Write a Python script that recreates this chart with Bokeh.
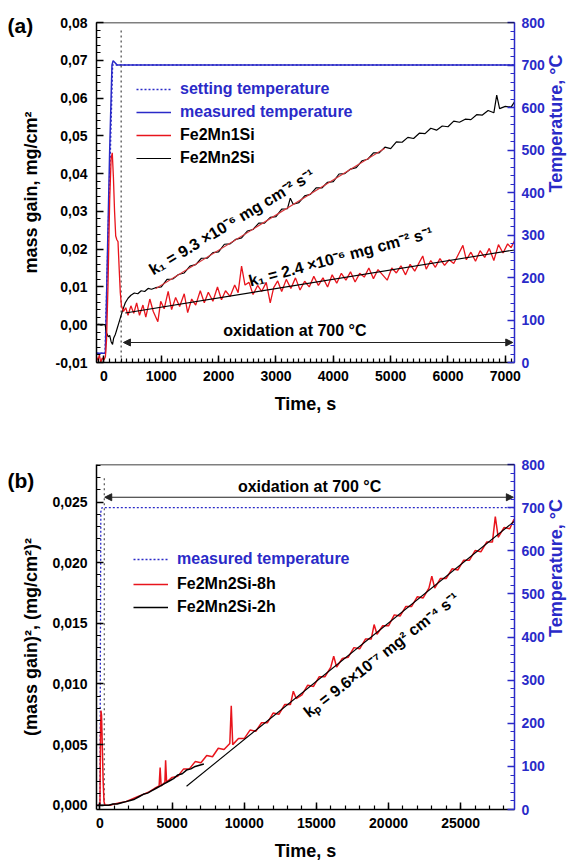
import math
from bokeh.plotting import figure
from bokeh.models import (Range1d, LinearAxis, SingleIntervalTicker, Span,
                          CustomJSTickFormatter, Legend, LegendItem, Label, Arrow, NormalHead)
from bokeh.layouts import column
from bokeh.embed import file_html
from bokeh.resources import INLINE

# ---------------- data: panel (a) ----------------
temp_a_t = [-130, 25, 60, 100, 140, 160, 190, 230, 7160]
temp_a_meas = [22, 22, 250, 500, 700, 710, 706, 700, 700]
temp_a_set_t = [-130, 20, 150, 7160]
temp_a_set = [22, 22, 700, 700]
ox_start_t = [300, 300]
ox_start_a = [-0.01, 0.078]

fe2mn1si_t = [-130, -105, -80, -55, -30, 0, 25, 45, 70, 100, 125, 145, 165, 185, 205, 225, 245, 265, 285, 305,
              340, 380, 420, 470, 520, 570, 620, 680, 730, 800, 860, 940, 990, 1050, 1120, 1180, 1250, 1320,
              1400, 1460, 1530, 1600, 1680, 1750, 1820, 1900, 1980, 2050, 2120, 2200, 2280, 2340, 2400, 2460,
              2530, 2600, 2680, 2750, 2830, 2900, 2960, 3030, 3100, 3180, 3260, 3340, 3420, 3500, 3580, 3660,
              3740, 3820, 3900, 3980, 4060, 4140, 4220, 4300, 4380, 4460, 4540, 4620, 4700, 4780, 4860, 4940,
              5020, 5100, 5180, 5260, 5340, 5420, 5500, 5560, 5620, 5700, 5780, 5860, 5940, 6020, 6100, 6180,
              6260, 6320, 6400, 6480, 6560, 6640, 6720, 6800, 6880, 6960, 7040, 7100, 7160]
fe2mn1si_v = [-0.0085, -0.0095, -0.0080, -0.0100, -0.0088, -0.0093, -0.0085, -0.0040, 0.0100, 0.0330, 0.0440,
              0.0455, 0.0390, 0.0300, 0.0235, 0.0225, 0.0220, 0.0150, 0.0085, 0.0050,
              0.0035, 0.0045, 0.0025, 0.0050, 0.0030, 0.0058, 0.0025, 0.0052, 0.0020, 0.0068, 0.0035, 0.0008,
              0.0062, 0.0042, 0.0088, 0.0040, 0.0072, 0.0048, 0.0082, 0.0032, 0.0068, 0.0052, 0.0090, 0.0058,
              0.0086, 0.0062, 0.0100, 0.0066, 0.0090, 0.0075, 0.0105, 0.0085, 0.0155, 0.0105, 0.0112, 0.0080,
              0.0104, 0.0088, 0.0112, 0.0058, 0.0098, 0.0116, 0.0088, 0.0120, 0.0096, 0.0124, 0.0092, 0.0115,
              0.0100, 0.0128, 0.0104, 0.0124, 0.0100, 0.0132, 0.0110, 0.0136, 0.0118, 0.0140, 0.0113, 0.0136,
              0.0126, 0.0150, 0.0122, 0.0146, 0.0132, 0.0118, 0.0150, 0.0137, 0.0156, 0.0132, 0.0160, 0.0142,
              0.0165, 0.0182, 0.0147, 0.0170, 0.0152, 0.0175, 0.0157, 0.0172, 0.0162, 0.0186, 0.0210, 0.0172,
              0.0192, 0.0168, 0.0196, 0.0178, 0.0202, 0.0170, 0.0212, 0.0190, 0.0214, 0.0204, 0.0222]

fe2mn2si_t = [-130, -90, -50, -10, 20, 45, 75, 100, 125, 150, 170, 200, 230, 260, 290, 330, 372, 420, 470, 530,
              590, 650, 710, 770, 830, 900, 1000, 1100, 1200, 1300, 1400, 1500, 1600, 1700, 1800, 1900, 2000,
              2100, 2200, 2300, 2400, 2500, 2600, 2700, 2800, 2900, 3000, 3100, 3200, 3250, 3300, 3400, 3500,
              3600, 3700, 3800, 3900, 4000, 4100, 4200, 4300, 4400, 4500, 4600, 4700, 4800, 4900, 5000, 5100,
              5200, 5300, 5400, 5500, 5600, 5700, 5800, 5900, 6000, 6100, 6200, 6300, 6400, 6500, 6600, 6700,
              6800, 6850, 6900, 7000, 7100, 7160]
fe2mn2si_v = [0.0000, 0.0001, -0.0001, 0.0000, 0.0000, -0.0022, -0.0032, -0.0028, -0.0045, -0.0052, -0.0035,
              -0.0025, -0.0010, 0.0005, 0.0020, 0.0040, 0.0058, 0.0070, 0.0078, 0.0084, 0.0082, 0.0090, 0.0088,
              0.0096, 0.0094, 0.0098, 0.0100, 0.0120, 0.0121, 0.0133, 0.0137, 0.0155, 0.0159, 0.0176, 0.0176,
              0.0191, 0.0193, 0.0213, 0.0214, 0.0226, 0.0230, 0.0248, 0.0252, 0.0269, 0.0269, 0.0284, 0.0286,
              0.0306, 0.0307, 0.0335, 0.0319, 0.0323, 0.0341, 0.0345, 0.0362, 0.0362, 0.0377, 0.0379, 0.0399,
              0.0400, 0.0412, 0.0416, 0.0434, 0.0438, 0.0455, 0.0455, 0.0470, 0.0466, 0.0484, 0.0483, 0.0496,
              0.0493, 0.0507, 0.0506, 0.0520, 0.0515, 0.0526, 0.0524, 0.0539, 0.0536, 0.0544, 0.0543, 0.0556,
              0.0555, 0.0567, 0.0561, 0.0608, 0.0572, 0.0578, 0.0576, 0.0590]

fit_a_black_t = [900, 4900]      # linear fit on Fe2Mn2Si (k1 = 9.3e-6)
fit_a_black_v = [0.0095, 0.0467]
fit_a_red_t = [372, 7160]        # linear fit on Fe2Mn1Si (k1 = 2.4e-6)
fit_a_red_v = [0.0031, 0.0198]

# ---------------- data: panel (b) ----------------
temp_b_t = [-240, 0, 60, 140, 28730]
temp_b_meas = [10, 10, 690, 700, 700]
ox_start_b = [0.0, 0.0272]

h8_t = [-150, 0, 40, 70, 110, 160, 220, 280, 350, 700, 1000, 1400, 1800, 2200, 2600, 3000, 3400, 3800, 4100,
        4170, 4240, 4500, 4550, 4620, 4800, 5000, 5400, 5800, 6200, 6600, 7000, 7400, 7800, 8200, 8600, 9000,
        9100, 9200, 9600, 10000, 10400, 10800, 11200, 11600, 12000, 12400, 12800, 13200, 13400, 13600, 14000,
        14400, 14800, 15200, 15600, 16000, 16200, 16400, 16800, 17200, 17600, 18000, 18400, 18800, 19000,
        19200, 19600, 20000, 20400, 20800, 21200, 21600, 22000, 22400, 22800, 23000, 23200, 23600, 24000,
        24400, 24800, 25200, 25600, 26000, 26400, 26800, 27200, 27400, 27600, 28000, 28400, 28700]
h8_v = [0.0000, 0.0001, 0.0060, 0.0078, 0.0074, 0.0050, 0.0020, 0.0003, 0.0000, 0.0000, 0.0001, 0.0002, 0.0003,
        0.0005, 0.0007, 0.0009, 0.0011, 0.0014, 0.0016, 0.0031, 0.0016, 0.0019, 0.0037, 0.0019, 0.0021, 0.0023,
        0.0024, 0.0030, 0.0030, 0.0036, 0.0035, 0.0041, 0.0040, 0.0047, 0.0046, 0.0051, 0.0082, 0.0050, 0.0055,
        0.0055, 0.0062, 0.0061, 0.0068, 0.0068, 0.0076, 0.0075, 0.0083, 0.0083, 0.0094, 0.0088, 0.0091, 0.0099,
        0.0098, 0.0106, 0.0106, 0.0114, 0.0123, 0.0114, 0.0121, 0.0122, 0.0130, 0.0129, 0.0137, 0.0137, 0.0149,
        0.0141, 0.0148, 0.0148, 0.0157, 0.0156, 0.0164, 0.0164, 0.0172, 0.0171, 0.0179, 0.0189, 0.0179, 0.0187,
        0.0187, 0.0195, 0.0194, 0.0202, 0.0202, 0.0210, 0.0209, 0.0217, 0.0217, 0.0238, 0.0221, 0.0229, 0.0228,
        0.0236]

h2_t = [0, 300, 600, 900, 1200, 1500, 1800, 2100, 2400, 2700, 3000, 3300, 3600, 3900, 4200, 4500, 4800, 5100,
        5400, 5700, 6000, 6300, 6600, 6900, 7200]
h2_v = [0.0000, 0.0000, 0.0000, 0.0001, 0.0001, 0.0002, 0.0003, 0.0004, 0.0005, 0.0007, 0.0009, 0.0010, 0.0012,
        0.0014, 0.0016, 0.0018, 0.0020, 0.0022, 0.0025, 0.0026, 0.0029, 0.0030, 0.0032, 0.0033, 0.0034]

fit_b_t = [6000, 28700]          # parabolic fit (kp = 9.6e-7)
fit_b_v = [0.00157, 0.0234]

# ---------------- styling ----------------
FONT = "Liberation Sans"
BLUE = "#2a2ac8"
RED = "#e8141c"
FIT_RED = "#d8383c"


def style_axis(ax, color="black", label_size="18px", tick_size="14px"):
    ax.axis_line_color = color
    ax.axis_line_width = 1.5
    ax.major_tick_line_color = color
    ax.minor_tick_line_color = color
    ax.major_tick_line_width = 1.5
    ax.minor_tick_line_width = 1.2
    ax.major_tick_in = 7
    ax.major_tick_out = 0
    ax.minor_tick_in = 4
    ax.minor_tick_out = 0
    ax.major_label_text_font = FONT
    ax.major_label_text_font_style = "bold"
    ax.major_label_text_font_size = tick_size
    ax.major_label_text_color = color
    ax.axis_label_text_font = FONT
    ax.axis_label_text_font_style = "bold"
    ax.axis_label_text_font_size = label_size
    ax.axis_label_text_color = color


def vertical_up(ax):
    if "axis_label_orientation" in ax.properties():
        ax.axis_label_orientation = math.pi / 2
        ax.axis_label_text_align = "center"
        ax.axis_label_text_baseline = "top"


def style_legend(leg, color):
    leg.border_line_color = None
    leg.background_fill_alpha = 0
    leg.padding = 0
    leg.margin = 0
    leg.glyph_width = 35
    leg.glyph_height = 20
    leg.label_height = 20
    leg.label_standoff = 9
    leg.label_text_font = FONT
    leg.label_text_font_style = "bold"
    leg.label_text_font_size = "16px"
    leg.label_text_color = color


def txt(p, x, y, text, angle=0.0, size="16px"):
    p.add_layout(Label(x=x, y=y, text=text, angle=math.radians(angle), text_align="center",
                       text_baseline="middle", text_font=FONT, text_font_style="bold",
                       text_font_size=size, text_color="black"))


def panel_title(p, text, standoff):
    t = p.title
    t.text = text
    t.align = "left"
    t.offset = -89
    t.vertical_align = "bottom"
    t.standoff = standoff
    t.text_font = FONT
    t.text_font_style = "bold"
    t.text_font_size = "21px"
    t.text_color = "black"


# ================= panel (a) =================
pa = figure(width=578, height=416, output_backend="svg", toolbar_location=None,
            x_range=Range1d(-130, 7160), y_range=Range1d(-0.01, 0.08),
            min_border_left=96, min_border_right=58, min_border_top=22, min_border_bottom=52)
pa.xgrid.visible = False
pa.ygrid.visible = False
pa.outline_line_color = None
pa.extra_y_ranges = {"T": Range1d(0, 800)}

xa = pa.xaxis[0]
xa.ticker = SingleIntervalTicker(interval=1000, num_minor_ticks=10)
xa.axis_label = "Time, s"
xa.major_label_standoff = 8
xa.axis_label_standoff = 10
style_axis(xa)

ya = pa.yaxis[0]
ya.ticker = SingleIntervalTicker(interval=0.01, num_minor_ticks=5)
ya.formatter = CustomJSTickFormatter(code="return tick.toFixed(2).replace('.', ',');")
ya.axis_label = "mass gain, mg/cm²"
ya.major_label_standoff = 9
ya.axis_label_standoff = 12
style_axis(ya)

ra = LinearAxis(y_range_name="T", ticker=SingleIntervalTicker(interval=100, num_minor_ticks=5),
                axis_label="Temperature, °C", major_label_standoff=7, axis_label_standoff=8)
style_axis(ra, color=BLUE)
vertical_up(ra)
pa.add_layout(ra, "right")
pa.add_layout(Span(location=0.08, dimension="width", line_color="black", line_width=1.5))

r_set = pa.line(temp_a_set_t, temp_a_set, y_range_name="T", line_color=BLUE, line_width=1.5,
                line_dash="2 2")
r_meas = pa.line(temp_a_t, temp_a_meas, y_range_name="T", line_color=BLUE, line_width=1.5)
pa.line(ox_start_t, ox_start_a, line_color="#444444", line_width=1.2, line_dash="2 3")
r_b = pa.line(fe2mn2si_t, fe2mn2si_v, line_color="black", line_width=1.2)
r_r = pa.line(fe2mn1si_t, fe2mn1si_v, line_color=RED, line_width=1.3)
pa.line(fit_a_black_t, fit_a_black_v, line_color=FIT_RED, line_width=1.1)
pa.line(fit_a_red_t, fit_a_red_v, line_color="black", line_width=1.1)

leg_a1 = Legend(items=[LegendItem(label="setting temperature", renderers=[r_set]),
                       LegendItem(label="measured temperature", renderers=[r_meas])],
                location=(40, 240), spacing=3)
style_legend(leg_a1, BLUE)
pa.add_layout(leg_a1)
leg_a2 = Legend(items=[LegendItem(label="Fe2Mn1Si", renderers=[r_r]),
                       LegendItem(label="Fe2Mn2Si", renderers=[r_b])],
                location=(40, 194), spacing=3)
style_legend(leg_a2, "black")
pa.add_layout(leg_a2)

pa.add_layout(Arrow(start=NormalHead(size=7, fill_color="#222222", line_color="#222222"),
                    end=NormalHead(size=7, fill_color="#222222", line_color="#222222"),
                    x_start=340, y_start=-0.0047, x_end=7130, y_end=-0.0047,
                    line_color="#222222", line_width=1.2))
txt(pa, 3330, -0.0016, "oxidation at 700 °C")
txt(pa, 2230, 0.0272, "k₁ = 9.3 ×10⁻⁶ mg cm⁻² s⁻¹", angle=31)
txt(pa, 4130, 0.0180, "k₁ = 2.4 ×10⁻⁶ mg cm⁻² s⁻¹", angle=15)
panel_title(pa, "(a)", -28)

# ================= panel (b) =================
pb = figure(width=578, height=447, output_backend="svg", toolbar_location=None,
            x_range=Range1d(-240, 28730), y_range=Range1d(-0.00035, 0.0281),
            min_border_left=96, min_border_right=58, min_border_top=48, min_border_bottom=54)
pb.xgrid.visible = False
pb.ygrid.visible = False
pb.outline_line_color = None
pb.extra_y_ranges = {"T": Range1d(0, 800)}

xb = pb.xaxis[0]
xb.ticker = SingleIntervalTicker(interval=5000, num_minor_ticks=5)
xb.axis_label = "Time, s"
xb.major_label_standoff = 8
xb.axis_label_standoff = 10
style_axis(xb)

yb = pb.yaxis[0]
yb.ticker = SingleIntervalTicker(interval=0.005, num_minor_ticks=5)
yb.formatter = CustomJSTickFormatter(code="return tick.toFixed(3).replace('.', ',');")
yb.axis_label = "(mass gain)², (mg/cm²)²"
yb.major_label_standoff = 9
yb.axis_label_standoff = 8
style_axis(yb)

rb = LinearAxis(y_range_name="T", ticker=SingleIntervalTicker(interval=100, num_minor_ticks=5),
                axis_label="Temperature, °C", major_label_standoff=7, axis_label_standoff=8)
style_axis(rb, color=BLUE)
vertical_up(rb)
pb.add_layout(rb, "right")
pb.add_layout(Span(location=0.0281, dimension="width", line_color="black", line_width=1.5))

r_tb = pb.line(temp_b_t, temp_b_meas, y_range_name="T", line_color=BLUE, line_width=1.3,
               line_dash="2 2")
pb.line(ox_start_t, ox_start_b, line_color="#555555", line_width=1.2, line_dash="2 3")
r_8h = pb.line(h8_t, h8_v, line_color=RED, line_width=1.5)
r_2h = pb.line(h2_t, h2_v, line_color="black", line_width=1.5)
pb.line(fit_b_t, fit_b_v, line_color="black", line_width=1.1)

leg_b1 = Legend(items=[LegendItem(label="measured temperature", renderers=[r_tb])],
                location=(37, 240), spacing=3)
style_legend(leg_b1, BLUE)
pb.add_layout(leg_b1)
leg_b2 = Legend(items=[LegendItem(label="Fe2Mn2Si-8h", renderers=[r_8h]),
                       LegendItem(label="Fe2Mn2Si-2h", renderers=[r_2h])],
                location=(37, 192), spacing=3)
style_legend(leg_b2, "black")
pb.add_layout(leg_b2)

pb.add_layout(Arrow(start=NormalHead(size=7, fill_color="#222222", line_color="#222222"),
                    end=NormalHead(size=7, fill_color="#222222", line_color="#222222"),
                    x_start=330, y_start=0.0254, x_end=28650, y_end=0.0254,
                    line_color="#222222", line_width=1.2))
txt(pb, 14530, 0.0263, "oxidation at 700 °C")
txt(pb, 19500, 0.0124, "kₚ = 9.6×10⁻⁷ mg² cm⁻⁴ s⁻¹", angle=38)
panel_title(pb, "(b)", -54)

layout = column(pa, pb, spacing=0)
open("out.html", "w").write(file_html(layout, INLINE))
